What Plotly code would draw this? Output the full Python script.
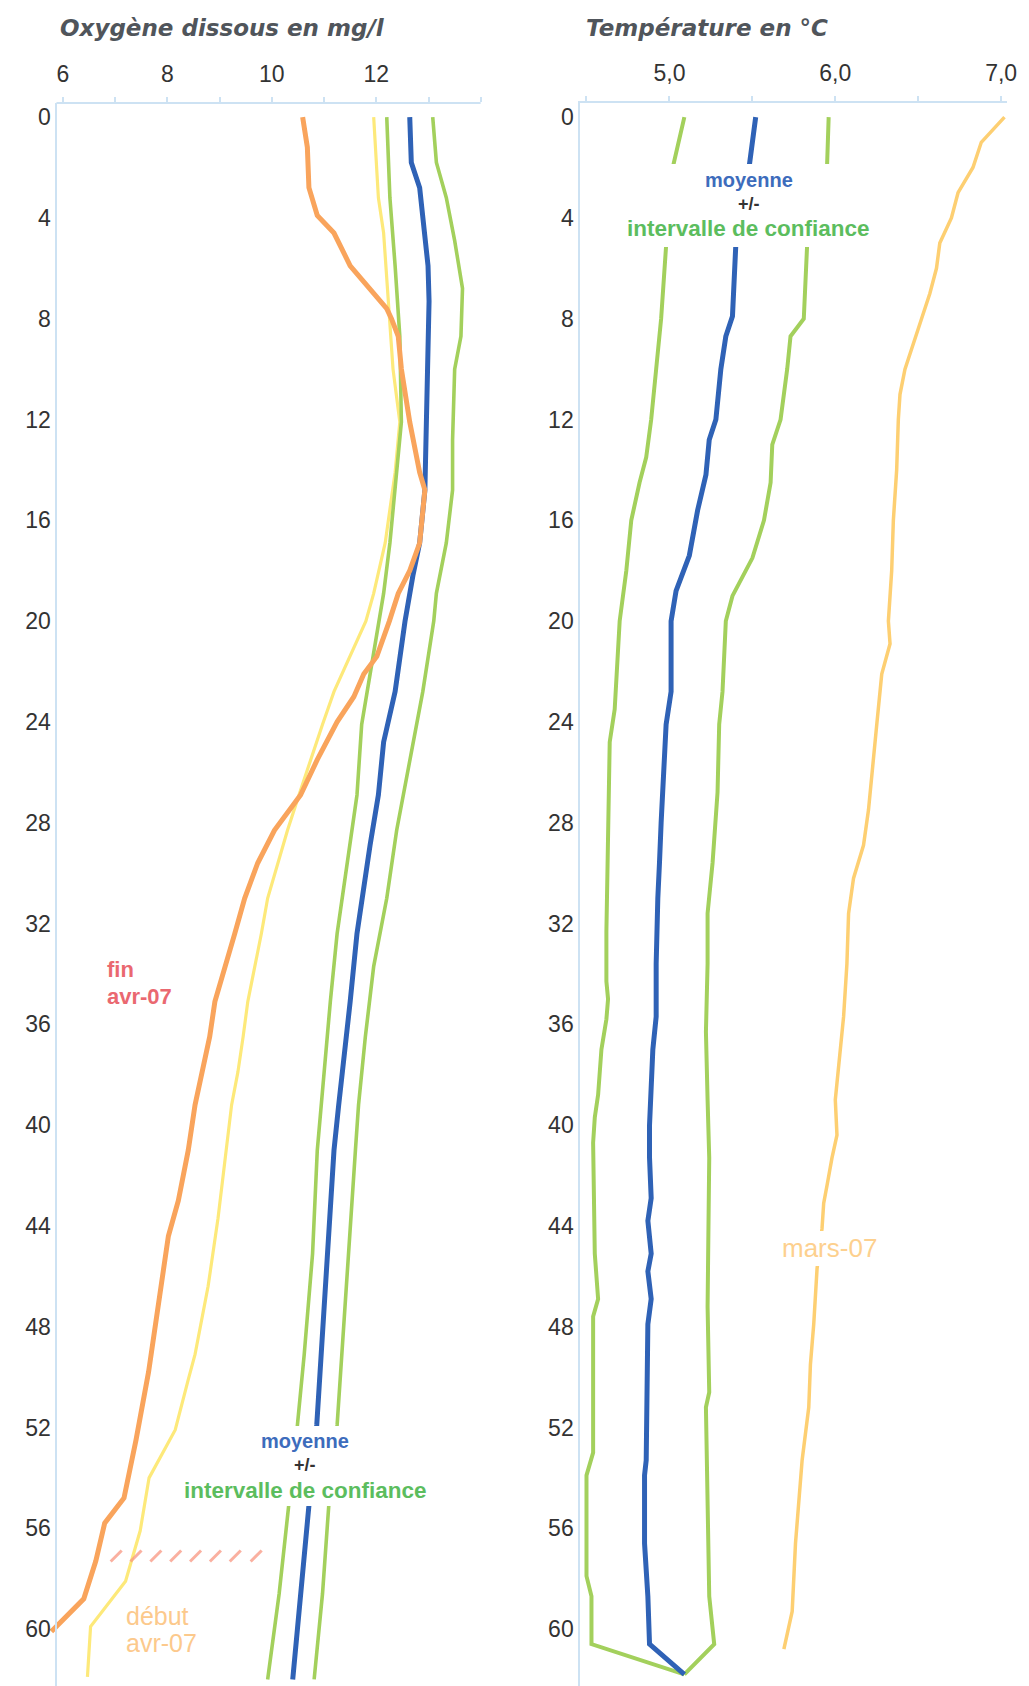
import plotly.graph_objects as go

W, H = 1029, 1686

# ---------------- DATA ----------------
# Left panel : dissolved oxygen (mg/l) vs depth (m)
fin_depth = [0, 1.2, 2.8, 3.9, 4.6, 5.9, 7.6, 8.0, 8.7, 10, 12.1, 14.1, 14.8, 15.9, 16.9, 18, 18.9, 20, 21.4, 22.1,
             23, 24, 25.5, 26.9, 28.3, 29.6, 31, 32.4, 33.7, 35.1, 36.5, 37.9, 39.2, 41, 43, 44.4, 47.1, 49.8, 52.5, 54.8,
             55.8, 57.3, 58.8, 60.1]
fin_o2 = [10.59, 10.68, 10.71, 10.87, 11.19, 11.50, 12.20, 12.29, 12.42, 12.48, 12.64, 12.83, 12.93, 12.89, 12.83, 12.64,
          12.42, 12.25, 12.01, 11.76, 11.57, 11.25, 10.87, 10.55, 10.05, 9.73, 9.48, 9.29, 9.10, 8.91, 8.81, 8.66, 8.53,
          8.40, 8.21, 8.02, 7.83, 7.64, 7.40, 7.17, 6.80, 6.63, 6.40, 5.78]

deb_depth = [0, 3.2, 4.6, 7.3, 10, 12.1, 14.1, 16.9, 18.9, 20, 21.4, 22.8, 24.1, 25.5, 26.9, 28.3, 29.6, 31, 32.4, 33.7,
             35.1, 36.5, 37.9, 39.2, 41, 43.7, 46.4, 49.1, 50.1, 52.1, 54.0, 56.1, 58.1, 59.9, 61.9]
deb_o2 = [11.95, 12.04, 12.14, 12.23, 12.32, 12.45, 12.36, 12.17, 11.95, 11.80, 11.50, 11.19, 10.97, 10.74, 10.52, 10.30,
          10.11, 9.92, 9.80, 9.67, 9.54, 9.45, 9.35, 9.23, 9.13, 8.97, 8.78, 8.53, 8.40, 8.15, 7.65, 7.48, 7.20, 6.53, 6.47]

mean_depth_L = [0, 1.8, 2.8, 4.6, 5.9, 7.3, 11.4, 14.8, 16.9, 18.2, 20, 22.8, 24.8, 26.9, 28.9, 31, 32.4, 35.1, 37.2,
                39.2, 41, 45.1, 49.1, 51.9, 55.1, 57.3, 60, 62]
mean_o2 = [12.64, 12.67, 12.83, 12.93, 12.99, 13.01, 12.96, 12.93, 12.83, 12.70, 12.55, 12.36, 12.14, 12.04, 11.88, 11.72,
           11.63, 11.50, 11.38, 11.28, 11.19, 11.06, 10.93, 10.86, 10.71, 10.62, 10.49, 10.40]

lo_depth_L = [0, 3.2, 5.9, 8.7, 12.1, 14.1, 16.9, 18.9, 20, 22.1, 24.1, 26.9, 29.6, 32.4, 35.1, 37.9, 41, 45.1, 49.1,
              51.9, 55.1, 58.6, 62]
lo_o2 = [12.20, 12.26, 12.36, 12.45, 12.48, 12.39, 12.26, 12.14, 12.05, 11.88, 11.72, 11.63, 11.44, 11.25, 11.12, 11.00,
         10.87, 10.78, 10.62, 10.49, 10.33, 10.14, 9.92]

hi_depth_L = [0, 1.8, 3.2, 4.9, 6.8, 8.7, 10, 12.8, 14.8, 16.9, 18.9, 20, 22.8, 25.5, 28.3, 31, 33.7, 36.5, 39.2, 41,
              45.1, 49.1, 51.9, 55.1, 58.6, 62]
hi_o2 = [13.08, 13.15, 13.34, 13.50, 13.65, 13.62, 13.50, 13.46, 13.46, 13.34, 13.15, 13.10, 12.89, 12.64, 12.39, 12.20,
         11.95, 11.79, 11.66, 11.60, 11.47, 11.34, 11.25, 11.09, 10.97, 10.81]

hatch_o2 = [7.02, 7.40, 7.78, 8.16, 8.54, 8.92, 9.30, 9.70]
hatch_depth = [57.1] * len(hatch_o2)

# Right panel : temperature (deg C) vs depth (m)
mean_depth_R = [0, 2, 5.1, 7.9, 8.7, 10, 12, 12.8, 14.2, 15.6, 17.4, 18.8, 20, 22.8, 24.1, 26.2, 28, 29.6, 31, 33.6,
                35.7, 37, 40, 41.3, 42.9, 43.8, 45.1, 45.8, 46.9, 47.9, 53.3, 53.9, 56.6, 58.7, 60.6, 61.8]
mean_T = [5.52, 5.48, 5.40, 5.38, 5.34, 5.31, 5.28, 5.24, 5.22, 5.17, 5.12, 5.04, 5.01, 5.01, 4.98, 4.96, 4.95, 4.94,
          4.93, 4.92, 4.92, 4.90, 4.88, 4.88, 4.89, 4.87, 4.89, 4.87, 4.89, 4.87, 4.86, 4.85, 4.85, 4.87, 4.88, 5.09]

lo_depth_R = [0, 2, 5.1, 8, 10, 12, 13.5, 14.5, 16, 18, 20, 22.8, 23.5, 24.8, 28.2, 32.3, 34.3, 35, 35.8, 37, 38.8,
              39.7, 40.7, 45.1, 46.9, 47.6, 53, 53.9, 57.9, 58.7, 60.6, 61.8]
lo_T = [5.09, 5.02, 4.98, 4.95, 4.92, 4.89, 4.86, 4.82, 4.77, 4.74, 4.70, 4.68, 4.67, 4.64, 4.63, 4.62, 4.62, 4.63, 4.62,
        4.59, 4.57, 4.55, 4.54, 4.55, 4.57, 4.54, 4.54, 4.50, 4.50, 4.53, 4.53, 5.09]

hi_depth_R = [0, 2, 5.1, 8, 8.7, 10, 12, 13, 14.5, 16, 17.5, 19, 20, 22.8, 24.1, 26.8, 29.6, 31.6, 33.6, 36.3, 39, 41.3,
              47.2, 50.6, 51.2, 56, 58.7, 60.6, 61.8]
hi_T = [5.96, 5.95, 5.83, 5.81, 5.73, 5.71, 5.67, 5.62, 5.61, 5.57, 5.50, 5.38, 5.34, 5.32, 5.30, 5.29, 5.26, 5.23, 5.23,
        5.22, 5.23, 5.24, 5.23, 5.24, 5.22, 5.23, 5.24, 5.27, 5.09]

mars_depth = [0, 1, 2, 3, 4, 5, 6, 7, 8, 9, 10, 11, 12, 14, 16, 18, 20, 20.9, 22.1, 24.1, 25.5, 27.5, 28.9, 30.2, 31.6,
              33.6, 35.7, 37.7, 39, 40.4, 41.3, 42.4, 43.1, 44.1, 45.7, 47.9, 49.5, 51.2, 53.3, 56.6, 59.3, 60.8]
mars_T = [7.02, 6.88, 6.83, 6.74, 6.70, 6.63, 6.61, 6.57, 6.52, 6.47, 6.42, 6.39, 6.38, 6.37, 6.35, 6.34, 6.32, 6.33,
          6.28, 6.25, 6.23, 6.20, 6.17, 6.11, 6.08, 6.07, 6.05, 6.02, 6.00, 6.01, 5.98, 5.95, 5.93, 5.92, 5.89, 5.87,
          5.85, 5.84, 5.80, 5.76, 5.74, 5.69]

depth_ticks = list(range(0, 61, 4))
o2_ticks = [6, 7, 8, 9, 10, 11, 12, 13, 14]
o2_ticktext = ["6", "", "8", "", "10", "", "12", "", ""]
t_ticks = [4.5, 5.0, 5.5, 6.0, 6.5, 7.0]
t_ticktext = ["", "5,0", "", "6,0", "", "7,0"]

# ---------------- STYLE ----------------
C_FIN = "#f9a45c"
C_DEB = "#fde97a"
C_MEAN = "#2f62b6"
C_CI = "#a3d05c"
C_MARS = "#fdcf72"
AXIS_C = "#cde2f3"
FONT = "Liberation Sans, Arial"
TITLE_FONT = "DejaVu Sans"
TICK_FONT = dict(family=FONT, size=23, color="#333333")


def px(x):
    return x / W


def py(y):
    return 1 - y / H


Y_TOP = 103
Y_DOM = [0, py(Y_TOP)]
Y_RANGE = [62.26, -0.56]

# left panel: 52.75 px per mg/l, value 6 at x=63.5 px
L_PPU = 52.75
L_RANGE = [5.75, 14.0]
L_DOM = [px(63.5 - 0.25 * L_PPU), px(63.5 + 8 * L_PPU)]
L_AXIS_AT = 5.877
# right panel: 167.5 px per degree, value 5.0 at x=676 px
R_PPU = 167.5
R_X0, R_X1 = 586, 1017
R_RANGE = [5.0 - (676 - R_X0) / R_PPU, 5.0 + (R_X1 - 676) / R_PPU]
R_DOM = [px(R_X0), px(R_X1)]

fig = go.Figure()


def line(x, y, color, width, ax):
    fig.add_trace(go.Scatter(x=x, y=y, mode="lines", line=dict(color=color, width=width),
                             xaxis="x" if ax == 1 else "x2", yaxis="y" if ax == 1 else "y2",
                             hoverinfo="skip", showlegend=False))


# left panel
line(deb_o2, deb_depth, C_DEB, 3.2, 1)
line(lo_o2, lo_depth_L, C_CI, 3.6, 1)
line(hi_o2, hi_depth_L, C_CI, 3.6, 1)
line(mean_o2, mean_depth_L, C_MEAN, 5, 1)
line(fin_o2, fin_depth, C_FIN, 5, 1)
fig.add_trace(go.Scatter(x=hatch_o2, y=hatch_depth, mode="markers", xaxis="x", yaxis="y",
                         marker=dict(symbol="line-ne", size=11, color="rgba(248,150,128,0.75)",
                                     line=dict(color="rgba(248,150,128,0.75)", width=3)),
                         hoverinfo="skip", showlegend=False))

# right panel
line(mars_T, mars_depth, C_MARS, 3.5, 2)
line(lo_T, lo_depth_R, C_CI, 4, 2)
line(hi_T, hi_depth_R, C_CI, 4, 2)
line(mean_T, mean_depth_R, C_MEAN, 5, 2)

common_x = dict(side="top", showgrid=False, zeroline=False, ticks="outside", ticklen=5, tickwidth=1.5,
                tickcolor=AXIS_C, tickfont=TICK_FONT, ticklabelstandoff=6, ticklabeloverflow="allow",
                fixedrange=True)
common_y = dict(domain=Y_DOM, range=Y_RANGE, showgrid=False, zeroline=False, ticks="", tickvals=depth_ticks,
                tickfont=TICK_FONT, showline=True, linecolor=AXIS_C, linewidth=2, ticklabelstandoff=0,
                fixedrange=True)

fig.update_layout(
    width=W, height=H, margin=dict(l=0, r=0, t=0, b=0),
    paper_bgcolor="white", plot_bgcolor="white", showlegend=False,
    xaxis=dict(domain=L_DOM, range=L_RANGE, anchor="y", tickvals=o2_ticks, ticktext=o2_ticktext,
               showline=False, **common_x),
    yaxis=dict(anchor="free", position=px(63.5 + (L_AXIS_AT - 6) * L_PPU), **common_y),
    xaxis2=dict(domain=R_DOM, range=R_RANGE, anchor="y2", tickvals=t_ticks, ticktext=t_ticktext,
                showline=True, linecolor=AXIS_C, linewidth=2, **common_x),
    yaxis2=dict(anchor="x2", **common_y),
)

shapes = [
    # top axis line of the left panel
    dict(type="line", xref="x", yref="paper", x0=L_AXIS_AT, x1=L_RANGE[1], y0=py(Y_TOP), y1=py(Y_TOP),
         line=dict(color=AXIS_C, width=2), layer="above"),
    # white backgrounds behind labels
    dict(type="rect", xref="paper", yref="paper", x0=px(632), x1=px(880), y0=py(164), y1=py(247),
         fillcolor="white", line=dict(width=0), layer="above"),
    dict(type="rect", xref="paper", yref="paper", x0=px(182), x1=px(433), y0=py(1426), y1=py(1506),
         fillcolor="white", line=dict(width=0), layer="above"),
    dict(type="rect", xref="paper", yref="paper", x0=px(786), x1=px(888), y0=py(1231), y1=py(1266),
         fillcolor="white", line=dict(width=0), layer="above"),
]
fig.update_layout(shapes=shapes)


def ann(text, x, y, size, color, bold=False, italic=False, xanchor="center", family=FONT):
    t = text
    if bold:
        t = "<b>" + t + "</b>"
    if italic:
        t = "<i>" + t + "</i>"
    fig.add_annotation(text=t, x=px(x), y=py(y), xref="paper", yref="paper", showarrow=False,
                       xanchor=xanchor, yanchor="middle", font=dict(family=family, size=size, color=color))


ann("Oxygène dissous en mg/l", 59, 28, 23, "#50555b", bold=True, italic=True, xanchor="left", family=TITLE_FONT)
ann("Température en °C", 590, 28, 23, "#50555b", bold=True, italic=True, xanchor="left", family=TITLE_FONT)

for cx, ys in [(756, (180, 204, 229)), (308, (1441, 1465, 1490))]:
    ann("moyenne", cx, ys[0], 20, "#3d6cbc", bold=True)
    ann("+/-", cx, ys[1], 18, "#333333", bold=True)
    ann("intervalle de confiance", cx, ys[2], 22.5, "#5cbd5e", bold=True)

ann("fin", 106, 969, 22, "#ea6870", bold=True, xanchor="left")
ann("avr-07", 106, 996, 22, "#ea6870", bold=True, xanchor="left")
ann("début", 125, 1616, 25, "#fcc98c", xanchor="left")
ann("avr-07", 125, 1643, 25, "#fcc98c", xanchor="left")
ann("mars-07", 788, 1248, 26, "#fdd08e", xanchor="left")

fig.write_html("out.html", config={"displayModeBar": False},
               post_script="document.body.style.margin='0px';")
